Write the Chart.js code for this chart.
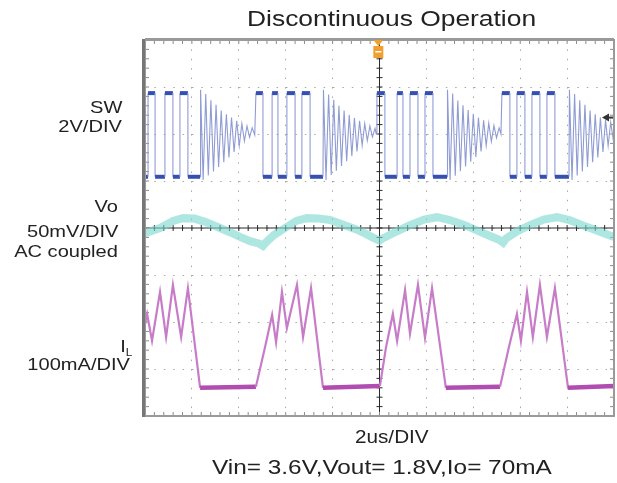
<!DOCTYPE html>
<html>
<head>
<meta charset="utf-8">
<script src="https://cdn.jsdelivr.net/npm/chart.js@4"></script>
<style>
body { margin: 0; background: #fff; font-family: "Liberation Sans", Arial, sans-serif; color: #222; }
#wrap { position: relative; width: 617px; height: 483px; }
#scope { position: absolute; left: 0; top: 0; }
.txt { position: absolute; white-space: nowrap; transform-origin: left top; }
.side { position: absolute; white-space: nowrap; font-size: 17px; line-height: 20px; text-align: right;
        transform: scaleX(1.18); transform-origin: right top; }
</style>
</head>
<body>
<div id="wrap">
  <canvas id="scope" width="617" height="483"></canvas>

  <div class="txt" style="left:247px;top:6px;font-size:22px;line-height:26px;transform:scaleX(1.2)">Discontinuous Operation</div>

  <div class="side" style="right:495px;top:98px">SW</div>
  <div class="side" style="right:495px;top:117px">2V/DIV</div>
  <div class="side" style="right:499px;top:197px">Vo</div>
  <div class="side" style="right:499px;top:222px">50mV/DIV</div>
  <div class="side" style="right:499px;top:242px">AC coupled</div>
  <div class="side" style="right:485px;top:337px">I<span style="font-size:10px;position:relative;top:4px">L</span></div>
  <div class="side" style="right:487px;top:355px">100mA/DIV</div>

  <div class="txt" style="left:355px;top:426px;font-size:18px;line-height:22px;transform:scaleX(1.15)">2us/DIV</div>
  <div class="txt" style="left:212px;top:454px;font-size:21px;line-height:25px;transform:scaleX(1.16)">Vin= 3.6V,Vout= 1.8V,Io= 70mA</div>
</div>

<script>
// time in us (2 us/div, 10 div), levels in screen divisions (-4..4)

// SW node, 2V/DIV
const swTime = [
  0.00, 0.13, 0.13, 0.43, 0.43, 0.85, 0.85, 1.19, 1.19, 1.49, 1.49, 1.83, 1.83, 2.35,
  2.37, 2.48, 2.59, 2.70, 2.81, 2.92, 3.03, 3.14, 3.25, 3.36, 3.47, 3.58, 3.69, 3.80, 3.91, 4.02, 4.13, 4.24, 4.35, 4.46, 4.57, 4.68,
  4.73, 5.03, 5.03, 5.42, 5.42, 5.67, 5.67, 6.05, 6.05, 6.40, 6.40, 6.69, 6.69, 7.04, 7.04, 7.59,
  7.61, 7.72, 7.83, 7.94, 8.05, 8.16, 8.27, 8.38, 8.49, 8.60, 8.71, 8.82, 8.93, 9.04, 9.15, 9.26, 9.37, 9.48, 9.59, 9.70, 9.81, 9.86,
  9.89, 10.23, 10.23, 10.75, 10.75, 11.00, 11.00, 11.30, 11.30, 11.64, 11.64, 11.94, 11.94, 12.28, 12.28, 12.88,
  12.90, 13.01, 13.12, 13.23, 13.34, 13.45, 13.56, 13.67, 13.78, 13.89, 14.00, 14.11, 14.22, 14.33, 14.44, 14.55, 14.66, 14.77, 14.88, 14.99, 15.10, 15.18,
  15.22, 15.56, 15.56, 15.86, 15.86, 16.20, 16.20, 16.50, 16.50, 16.84, 16.84, 17.14, 17.14, 17.48, 17.48, 18.08,
  18.10, 18.21, 18.32, 18.43, 18.54, 18.65, 18.76, 18.87, 18.98, 19.09, 19.20, 19.31, 19.42, 19.53, 19.64, 19.75, 19.86, 19.97, 20.00
];
const swLevel = [
  1.09, 1.09, 2.87, 2.87, 1.09, 1.09, 2.87, 2.87, 1.09, 1.09, 2.87, 2.87, 1.09, 1.09,
  2.94, 1.02, 2.85, 1.12, 2.72, 1.20, 2.62, 1.30, 2.50, 1.40, 2.42, 1.50, 2.35, 1.62, 2.28, 1.75, 2.22, 1.85, 2.17, 1.93, 2.13, 1.98,
  2.87, 2.87, 1.09, 1.09, 2.87, 2.87, 1.09, 1.09, 2.87, 2.87, 1.09, 1.09, 2.87, 2.87, 1.09, 1.09,
  2.94, 1.02, 2.84, 1.13, 2.73, 1.22, 2.60, 1.32, 2.50, 1.42, 2.41, 1.53, 2.34, 1.63, 2.28, 1.76, 2.22, 1.86, 2.17, 1.94, 2.12, 2.00,
  2.87, 2.87, 1.09, 1.09, 2.87, 2.87, 1.09, 1.09, 2.87, 2.87, 1.09, 1.09, 2.87, 2.87, 1.09, 1.09,
  2.94, 1.02, 2.86, 1.11, 2.71, 1.21, 2.61, 1.31, 2.51, 1.41, 2.43, 1.51, 2.35, 1.63, 2.29, 1.75, 2.23, 1.84, 2.18, 1.92, 2.13, 2.00,
  2.87, 2.87, 1.09, 1.09, 2.87, 2.87, 1.09, 1.09, 2.87, 2.87, 1.09, 1.09, 2.87, 2.87, 1.09, 1.09,
  2.94, 1.02, 2.85, 1.12, 2.72, 1.20, 2.62, 1.30, 2.50, 1.40, 2.42, 1.50, 2.35, 1.62, 2.30, 1.75, 2.25, 1.87, 2.05
];

// Vo, 50mV/DIV AC coupled
const voTime = [0.00, 0.64, 1.20, 1.62, 2.10, 2.56, 3.10, 3.62, 4.10, 4.48, 4.85, 5.03, 5.15, 5.50, 5.97, 6.45, 6.91,
  7.40, 7.89, 8.40, 8.95, 9.40, 9.70, 10.00, 10.11, 10.70, 11.30, 11.90, 12.45, 13.00, 13.64, 14.20, 14.71,
  15.10, 15.27, 15.40, 15.90, 16.42, 17.00, 17.57, 18.10, 18.76, 19.40, 20.00];
const voLevel = [-0.11, 0.00, 0.15, 0.21, 0.20, 0.13, 0.02, -0.09, -0.20, -0.28, -0.33, -0.38, -0.31, -0.15, 0.00, 0.15, 0.21,
  0.20, 0.17, 0.08, -0.02, -0.12, -0.20, -0.27, -0.23, -0.08, 0.06, 0.18, 0.23, 0.17, 0.06, -0.06, -0.17,
  -0.25, -0.31, -0.22, -0.06, 0.06, 0.18, 0.23, 0.17, 0.04, -0.08, -0.19];

// IL, 100mA/DIV
const ilTime = [0.00, 0.09, 0.30, 0.64, 0.90, 1.19, 1.54, 1.83, 2.35,
  4.73, 5.12, 5.42, 5.59, 5.84, 6.05, 6.48, 6.74, 7.08, 7.59,
  10.02, 10.28, 10.57, 10.75, 11.09, 11.30, 11.64, 11.94, 12.24, 12.83,
  15.14, 15.52, 15.86, 16.03, 16.29, 16.54, 16.84, 17.14, 17.48, 18.04, 20.00];
const ilLevel = [-2.05, -1.83, -2.40, -1.36, -2.32, -1.21, -2.32, -1.28, -3.40,
  -3.38, -2.53, -1.85, -2.43, -1.36, -2.13, -1.21, -2.32, -1.28, -3.40,
  -3.36, -2.53, -1.83, -2.40, -1.32, -2.25, -1.21, -2.34, -1.28, -3.40,
  -3.38, -2.53, -1.83, -2.40, -1.36, -2.32, -1.21, -2.32, -1.28, -3.40, -3.36];

function pts(ts, vs) {
  return ts.map((t, i) => ({ x: t, y: vs[i] }));
}

// centre cross, tick marks, frame and markers
const scopeFrame = {
  id: 'scopeFrame',
  beforeDatasetsDraw(chart) {
    const { ctx, chartArea: a, scales: { x, y } } = chart;
    const cx = x.getPixelForValue(10), cy = y.getPixelForValue(0);
    ctx.save();
    ctx.strokeStyle = '#2a2a2a';
    ctx.lineWidth = 1;
    ctx.beginPath();
    ctx.moveTo(a.left, cy); ctx.lineTo(a.right, cy);
    ctx.moveTo(cx, a.top); ctx.lineTo(cx, a.bottom);
    for (let i = 0; i <= 50; i++) {
      const px = x.getPixelForValue(i * 0.4);
      ctx.moveTo(px, cy - 3); ctx.lineTo(px, cy + 3);
    }
    for (let i = 0; i <= 40; i++) {
      const py = y.getPixelForValue(-4 + i * 0.2);
      ctx.moveTo(cx - 3, py); ctx.lineTo(cx + 3, py);
    }
    ctx.stroke();

    // small ticks on the inside of the frame
    ctx.strokeStyle = '#8c8c8c';
    ctx.beginPath();
    for (let i = 0; i <= 50; i++) {
      const px = x.getPixelForValue(i * 0.4);
      ctx.moveTo(px, a.top); ctx.lineTo(px, a.top + 4);
      ctx.moveTo(px, a.bottom); ctx.lineTo(px, a.bottom - 4);
    }
    for (let i = 0; i <= 40; i++) {
      const py = y.getPixelForValue(-4 + i * 0.2);
      ctx.moveTo(a.left, py); ctx.lineTo(a.left + 4, py);
      ctx.moveTo(a.right, py); ctx.lineTo(a.right - 4, py);
    }
    ctx.stroke();
    ctx.restore();
  },
  afterDatasetsDraw(chart) {
    const { ctx, chartArea: a, scales: { x, y } } = chart;
    ctx.save();
    ctx.strokeStyle = '#9a9a9a';
    ctx.lineWidth = 2;
    ctx.strokeRect(a.left, a.top, a.right - a.left, a.bottom - a.top);
    ctx.fillStyle = '#777';
    ctx.fillRect(a.left - 3, a.top - 1, 3, a.bottom - a.top + 2);
    ctx.fillStyle = '#999';
    ctx.fillRect(a.left, a.top - 2, a.right - a.left, 2);

    // trigger position marker
    const tx = x.getPixelForValue(9.95);
    ctx.fillStyle = '#f0a030';
    ctx.beginPath();
    ctx.moveTo(tx - 5, a.top); ctx.lineTo(tx + 5, a.top); ctx.lineTo(tx, a.top + 6);
    ctx.fill();
    ctx.fillRect(tx - 5, a.top + 6, 10, 12);
    ctx.fillStyle = '#fff';
    ctx.fillRect(tx - 3, a.top + 11, 6, 1.5);

    // trigger level arrow on the right
    const ly = y.getPixelForValue(2.35);
    ctx.fillStyle = '#333';
    ctx.beginPath();
    ctx.moveTo(a.right - 12, ly); ctx.lineTo(a.right - 5, ly - 4); ctx.lineTo(a.right - 5, ly + 4);
    ctx.fill();
    ctx.fillRect(a.right - 6, ly - 1, 5, 2);
    ctx.restore();
  }
};

const flat = c => c.p0.parsed.y === c.p1.parsed.y;
const ilFlat = c => Math.abs(c.p1.parsed.y - c.p0.parsed.y) < 0.2;

new Chart(document.getElementById('scope'), {
  type: 'line',
  data: {
    datasets: [
      {
        label: 'Vo',
        data: pts(voTime, voLevel),
        borderColor: 'rgba(120, 215, 205, 0.6)',
        borderWidth: 8,
        pointRadius: 0,
        tension: 0
      },
      {
        label: 'SW',
        data: pts(swTime, swLevel),
        borderColor: '#8d9ad2',
        borderWidth: 1.2,
        pointRadius: 0,
        tension: 0,
        segment: {
          borderColor: c => flat(c) ? '#3550b0' : '#8f9cd4',
          borderWidth: c => flat(c) ? 4 : 1.1
        }
      },
      {
        label: 'IL',
        data: pts(ilTime, ilLevel),
        borderColor: '#c77cc7',
        borderWidth: 2.2,
        pointRadius: 0,
        tension: 0,
        segment: {
          borderColor: c => ilFlat(c) ? '#b14db1' : '#c77cc7',
          borderWidth: c => ilFlat(c) ? 4.5 : 2.2
        }
      }
    ]
  },
  options: {
    responsive: false,
    animation: false,
    events: [],
    layout: { padding: { left: 145, top: 40, right: 3, bottom: 67 } },
    plugins: { legend: { display: false }, tooltip: { enabled: false } },
    scales: {
      x: {
        type: 'linear', min: 0, max: 20,
        ticks: { display: false, stepSize: 2 },
        grid: { color: '#a8a8a8', drawTicks: false },
        border: { display: false, dash: [1.5, 7.9] }
      },
      y: {
        type: 'linear', min: -4, max: 4,
        ticks: { display: false, stepSize: 1 },
        grid: { color: '#a8a8a8', drawTicks: false },
        border: { display: false, dash: [1.5, 7.9] }
      }
    }
  },
  plugins: [scopeFrame]
});
</script>
</body>
</html>
